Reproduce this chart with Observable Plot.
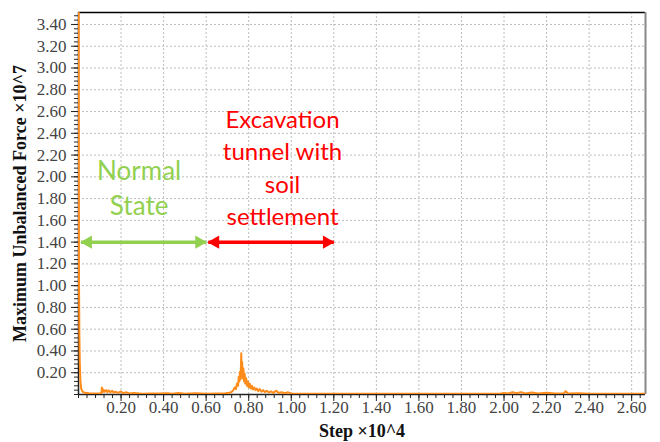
<!DOCTYPE html>
<html><head><meta charset="utf-8">
<script src="https://cdn.jsdelivr.net/npm/d3@7"></script>
<script src="https://cdn.jsdelivr.net/npm/@observablehq/plot@0.6"></script>
<style>
body{margin:0;background:#fff}
</style>
</head><body><div id="chart"></div>
<script>
// Step (×10^4)
const steps = [0,0.002,0.004,0.006,0.009,0.013,0.02,0.03,0.05,0.08,0.1,0.108,0.11,0.113,0.118,0.123,0.13,0.136,0.142,0.15,0.158,0.165,0.175,0.185,0.2,0.21,0.225,0.24,0.26,0.3,0.34,0.38,0.42,0.44,0.47,0.5,0.55,0.6,0.65,0.69,0.71,0.72,0.728,0.734,0.74,0.745,0.75,0.753,0.756,0.759,0.762,0.765,0.767,0.769,0.772,0.775,0.778,0.781,0.784,0.788,0.792,0.796,0.8,0.805,0.81,0.815,0.82,0.826,0.832,0.838,0.845,0.852,0.86,0.868,0.876,0.885,0.895,0.905,0.915,0.93,0.94,0.955,0.97,0.985,1.0,1.05,1.15,1.3,1.5,1.7,1.9,1.98,2.0,2.02,2.04,2.06,2.08,2.1,2.13,2.16,2.2,2.24,2.28,2.29,2.3,2.35,2.4,2.5,2.6,2.665];
// Maximum unbalanced force (×10^7)
const force = [4.8,1.16,0.55,0.30,0.12,0.05,0.025,0.015,0.012,0.01,0.012,0.015,0.065,0.02,0.045,0.025,0.04,0.022,0.038,0.02,0.035,0.018,0.025,0.015,0.028,0.012,0.02,0.01,0.014,0.008,0.01,0.009,0.012,0.008,0.013,0.008,0.011,0.008,0.01,0.012,0.015,0.025,0.04,0.065,0.05,0.1,0.08,0.16,0.12,0.21,0.14,0.38,0.19,0.3,0.15,0.24,0.12,0.19,0.1,0.15,0.08,0.12,0.065,0.1,0.055,0.08,0.045,0.065,0.04,0.055,0.03,0.05,0.025,0.04,0.022,0.035,0.018,0.03,0.015,0.035,0.014,0.02,0.012,0.02,0.01,0.008,0.007,0.006,0.006,0.006,0.006,0.008,0.015,0.01,0.02,0.012,0.022,0.01,0.018,0.01,0.015,0.009,0.012,0.03,0.01,0.012,0.008,0.008,0.007,0.007];

const xTicks = [0.2,0.4,0.6,0.8,1.0,1.2,1.4,1.6,1.8,2.0,2.2,2.4,2.6];
const yTicks = [0.2,0.4,0.6,0.8,1.0,1.2,1.4,1.6,1.8,2.0,2.2,2.4,2.6,2.8,3.0,3.2,3.4];
const xMinor = d3.range(0, 2.665, 0.04);
const yMinor = d3.range(0, 3.5, 0.04);

const xMax = 2.665, yMax = 3.51;
const data = steps.map((s, i) => ({step: s, force: force[i]}));

const arrows = [
  {x1: 0.012, x2: 0.6, y: 1.4, color: "#92D050"},
  {x1: 0.61, x2: 1.2, y: 1.4, color: "#FF0000"}
];
const notes = [
  {x: 0.285, y: 1.91, text: "Normal\nState", color: "#92D050", size: 26, lh: 1.35},
  {x: 0.959, y: 2.10, text: "Excavation\ntunnel with\nsoil\nsettlement", color: "#FF0000", size: 24, lh: 1.35}
];

const serif = "Liberation Serif";
const anno = "Lato";
const fmt = d => d.toFixed(2);

const chart = Plot.plot({
  width: 660, height: 442,
  marginLeft: 78, marginRight: 15, marginTop: 12, marginBottom: 48,
  x: {domain: [0, xMax]},
  y: {domain: [0, yMax]},
  style: {fontFamily: serif, background: "#fff"},
  marks: [
    Plot.gridX(xTicks, {stroke: "#bdbdbd", strokeOpacity: 1, strokeDasharray: "2,2"}),
    Plot.gridY(yTicks, {stroke: "#bdbdbd", strokeOpacity: 1, strokeDasharray: "2,2"}),
    Plot.ruleY([yMax], {stroke: "#000", strokeWidth: 1.5}),
    Plot.ruleX([xMax], {stroke: "#888", strokeWidth: 2}),
    Plot.ruleY([0], {stroke: "#222", strokeWidth: 1.5}),
    Plot.ruleX([0], {stroke: "#222", strokeWidth: 1.5}),
    Plot.axisX(xMinor, {tickSize: 4, text: null, stroke: "#222", label: null}),
    Plot.axisY(yMinor, {tickSize: 4, text: null, stroke: "#222", label: null}),
    Plot.axisX(xTicks, {tickSize: 7, text: null, stroke: "#222", label: null}),
    Plot.axisY(yTicks, {tickSize: 7, text: null, stroke: "#222", label: null}),
    Plot.text(xTicks, {x: d => d, text: fmt, frameAnchor: "bottom", dy: 18, fontSize: 17, fontFamily: serif, fill: "#444"}),
    Plot.text(yTicks, {y: d => d, text: fmt, frameAnchor: "left", dx: -12, textAnchor: "end", fontSize: 17, fontFamily: serif, fill: "#444"}),
    Plot.line(data, {x: "step", y: "force", stroke: "#FF8C1A", strokeWidth: 2, clip: true}),
    Plot.link(arrows, {x1: "x1", x2: "x2", y1: "y", y2: "y", stroke: "color", strokeWidth: 3.5}),
    Plot.dot(arrows, {x: "x1", y: "y", symbol: "triangle", r: 5, rotate: -90, dx: 7, fill: "color", stroke: "none"}),
    Plot.dot(arrows, {x: "x2", y: "y", symbol: "triangle", r: 5, rotate: 90, dx: -7, fill: "color", stroke: "none"}),
    ...notes.map(n => Plot.text([n], {x: "x", y: "y", text: "text", fill: n.color, fontSize: n.size, lineHeight: n.lh, fontFamily: anno, textAnchor: "middle"})),
    Plot.text(["Step ×10^4"], {frameAnchor: "bottom", dy: 42, fontSize: 18, fontWeight: "bold", fill: "#111", fontFamily: serif}),
    Plot.text(["Maximum Unbalanced Force ×10^7"], {frameAnchor: "left", dx: -58, rotate: -90, textAnchor: "middle", fontSize: 18, fontWeight: "bold", fill: "#111", fontFamily: serif})
  ]
});
document.getElementById("chart").appendChild(chart);
</script>
</body></html>
